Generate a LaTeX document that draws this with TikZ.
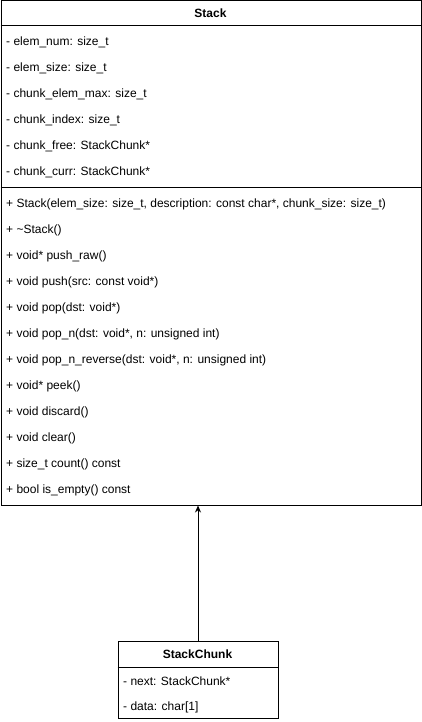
\documentclass[tikz,border=0pt]{standalone}
\usepackage{fontspec}
\setmainfont{Liberation Sans}
\usetikzlibrary{arrows.meta}
\begin{document}
\begin{tikzpicture}[x=1pt,y=-1pt,
  box/.style={draw,line width=1pt,inner sep=0pt,fill=white},
  row/.style={anchor=west,inner sep=0pt,font=\fontsize{12}{14}\selectfont},
  ttl/.style={inner sep=0pt,font=\bfseries\fontsize{12}{14}\selectfont},
  sep/.style={line width=1pt}]
\useasboundingbox (0,0) rectangle (421,722);
\fill[white] (0,0) rectangle (421,722);
% Stack box
\node[box,minimum width=420pt,minimum height=504pt,anchor=north west] (stack) at (0.5,0.5) {};
\node[ttl] (st) at (210.5,13.5) {Stack};
\draw[sep] (stack.west |- 0,26) -- (stack.east |- 0,26);
\node[row] (a1) at (6,42) {- elem\_num: size\_t};
\node[row] (a2) at (6,68) {- elem\_size: size\_t};
\node[row] (a3) at (6,94) {- chunk\_elem\_max: size\_t};
\node[row] (a4) at (6,120) {- chunk\_index: size\_t};
\node[row] (a5) at (6,146) {- chunk\_free: StackChunk*};
\node[row] (a6) at (6,172) {- chunk\_curr: StackChunk*};
\draw[sep] (stack.west |- 0,187) -- (stack.east |- 0,187);
\node[row] (m1) at (6,204) {+ Stack(elem\_size: size\_t, description: const char*, chunk\_size: size\_t)};
\node[row] (m2) at (6,230) {+ \textasciitilde Stack()};
\node[row] (m3) at (6,256) {+ void* push\_raw()};
\node[row] (m4) at (6,282) {+ void push(src: const void*)};
\node[row] (m5) at (6,308) {+ void pop(dst: void*)};
\node[row] (m6) at (6,334) {+ void pop\_n(dst: void*, n: unsigned int)};
\node[row] (m7) at (6,360) {+ void pop\_n\_reverse(dst: void*, n: unsigned int)};
\node[row] (m8) at (6,386) {+ void* peek()};
\node[row] (m9) at (6,412) {+ void discard()};
\node[row] (m10) at (6,438) {+ void clear()};
\node[row] (m11) at (6,464) {+ size\_t count() const};
\node[row] (m12) at (6,490) {+ bool is\_empty() const};
% StackChunk box
\node[box,minimum width=160pt,minimum height=77pt,anchor=north west] (chunk) at (117.5,641) {};
\node[ttl] (ct) at (197.5,654.5) {StackChunk};
\draw[sep] (chunk.west |- 0,667) -- (chunk.east |- 0,667);
\node[row] (c1) at (123,681) {- next: StackChunk*};
\node[row] (c2) at (123,707) {- data: char[1]};
% connector
\draw[line width=1pt,-{Stealth[length=7pt,width=6pt]}] (chunk.north) -- (chunk.north |- stack.south);
\end{tikzpicture}
\end{document}
